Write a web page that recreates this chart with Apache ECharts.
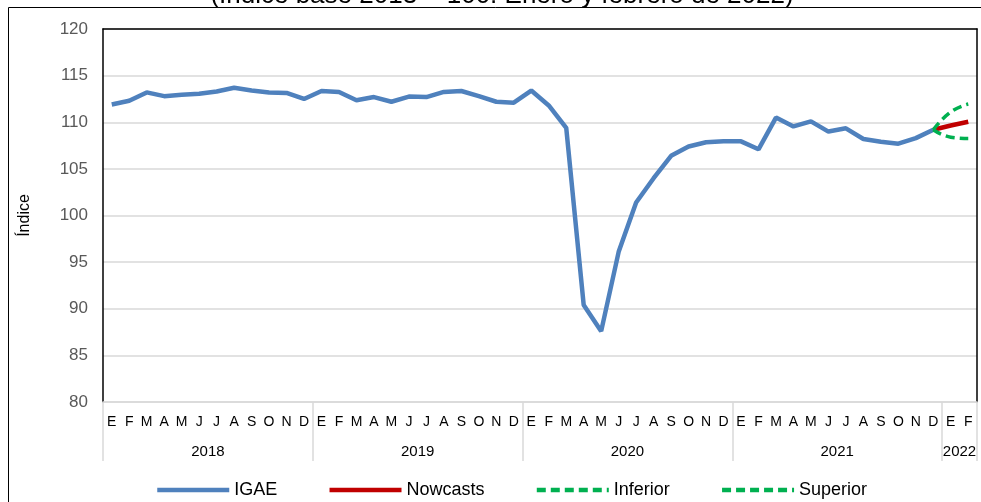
<!DOCTYPE html>
<html>
<head>
<meta charset="utf-8">
<title>IGAE nowcast</title>
<script src="https://cdn.jsdelivr.net/npm/echarts@6/dist/echarts.min.js"></script>
<style>
html, body { margin: 0; padding: 0; background: #fff; }
#chart { width: 981px; height: 502px; }
</style>
</head>
<body>
<div id="chart"></div>
<script>
// etiquetas del eje
var monthInitials = ['E', 'F', 'M', 'A', 'M', 'J', 'J', 'A', 'S', 'O', 'N', 'D'];
var years = ['2018', '2019', '2020', '2021', '2022'];
var monthsPerYear = [12, 12, 12, 12, 2];

// IGAE observado, enero 2018 - diciembre 2021
var igae = [
    111.9, 112.3, 113.2, 112.8, 112.95, 113.05, 113.3, 113.7, 113.4, 113.2, 113.15, 112.5,
    113.35, 113.25, 112.35, 112.7, 112.2, 112.75, 112.7, 113.25, 113.35, 112.8, 112.2, 112.1,
    113.4, 111.8, 109.4, 90.4, 87.6, 96.1, 101.4, 104.0, 106.4, 107.4, 107.85, 107.95,
    107.95, 107.1, 110.5, 109.55, 110.1, 109.0, 109.35, 108.2, 107.9, 107.7, 108.3, 109.2
];
// diciembre 2021, enero y febrero 2022
var nowcasts = [109.2, 109.65, 110.05];
var inferior = [109.2, 108.4, 108.25];
var superior = [109.2, 111.1, 111.95];

var yMin = 80, yMax = 120, yStep = 5;

var categories = [];
var yearCenters = [];
var yearEdges = [0];
monthsPerYear.forEach(function (n) {
    yearCenters.push(categories.length + n / 2);
    for (var i = 0; i < n; i++) categories.push(monthInitials[i]);
    yearEdges.push(categories.length);
});

function pad(values) {
    var start = igae.length - 1;
    var out = [];
    for (var i = 0; i < start; i++) out.push(null);
    return out.concat(values);
}

var myChart = echarts.init(document.getElementById('chart'));
myChart.setOption({
    animation: false,
    textStyle: { fontFamily: 'Liberation Sans, Arial, sans-serif' },
    title: {
        text: '(Índice base 2013 = 100. Enero y febrero de 2022)',
        left: 497,
        textAlign: 'center',
        top: -22,
        textStyle: { fontSize: 26, fontWeight: 'normal', color: '#000' }
    },
    graphic: [{
        type: 'rect',
        shape: { x: 8.5, y: 7.5, width: 1000, height: 1000 },
        style: { fill: 'none', stroke: '#000', lineWidth: 1 },
        silent: true
    }],
    grid: {
        left: 103,
        top: 29,
        right: 4,
        bottom: 100
    },
    legend: {
        left: 150,
        top: 476,
        itemWidth: 72,
        itemHeight: 14,
        itemGap: 50,
        itemStyle: { opacity: 0 },
        lineStyle: { width: 4.5 },
        textStyle: { fontSize: 18, color: '#000' },
        data: ['IGAE', 'Nowcasts', 'Inferior', 'Superior']
    },
    xAxis: [{
        type: 'category',
        data: categories,
        boundaryGap: true,
        axisLine: { lineStyle: { color: '#d9d9d9', width: 1.5 } },
        axisTick: { show: false },
        axisLabel: { interval: 0, fontSize: 14, color: '#000', margin: 13 }
    }, {
        type: 'value',
        min: 0,
        max: categories.length,
        position: 'bottom',
        axisLine: { show: false },
        splitLine: { show: false },
        axisTick: {
            show: true,
            customValues: yearEdges,
            length: 59,
            lineStyle: { color: '#d9d9d9', width: 1.5 }
        },
        axisLabel: {
            customValues: yearCenters,
            fontSize: 15,
            color: '#000',
            margin: 42,
            formatter: function (v) {
                return years[yearCenters.indexOf(v)];
            }
        }
    }, {
        // borde superior del área de trazado
        type: 'category',
        data: categories,
        position: 'top',
        axisLine: { show: true, lineStyle: { color: '#000', width: 1.5 } },
        axisTick: { show: false },
        axisLabel: { show: false },
        splitLine: { show: false }
    }],
    yAxis: [{
        type: 'value',
        min: yMin,
        max: yMax,
        interval: yStep,
        name: 'Índice',
        nameLocation: 'middle',
        nameRotate: 90,
        nameGap: 70,
        nameTextStyle: { fontSize: 16, color: '#000' },
        axisLine: { show: true, lineStyle: { color: '#000', width: 1.5 } },
        axisTick: { show: false },
        axisLabel: { fontSize: 17, color: '#595959', margin: 15 },
        splitLine: { lineStyle: { color: '#d9d9d9', width: 1.5 } }
    }, {
        // borde derecho
        type: 'value',
        min: yMin,
        max: yMax,
        interval: yStep,
        position: 'right',
        axisLine: { show: true, lineStyle: { color: '#000', width: 1.5 } },
        axisTick: { show: false },
        axisLabel: { show: false },
        splitLine: { show: false }
    }],
    series: [
        {
            name: 'IGAE',
            type: 'line',
            data: igae,
            symbol: 'none',
            lineStyle: { color: '#4f81bd', width: 4.5 },
            itemStyle: { color: '#4f81bd' }
        },
        {
            name: 'Nowcasts',
            type: 'line',
            data: pad(nowcasts),
            symbol: 'none',
            lineStyle: { color: '#c00000', width: 4.5 },
            itemStyle: { color: '#c00000' }
        },
        {
            name: 'Inferior',
            type: 'line',
            data: pad(inferior),
            symbol: 'none',
            smooth: true,
            lineStyle: { color: '#00b050', width: 3.5, type: [9, 5] },
            itemStyle: { color: '#00b050' }
        },
        {
            name: 'Superior',
            type: 'line',
            data: pad(superior),
            symbol: 'none',
            smooth: true,
            lineStyle: { color: '#00b050', width: 3.5, type: [9, 5] },
            itemStyle: { color: '#00b050' }
        }
    ]
});
</script>
</body>
</html>
